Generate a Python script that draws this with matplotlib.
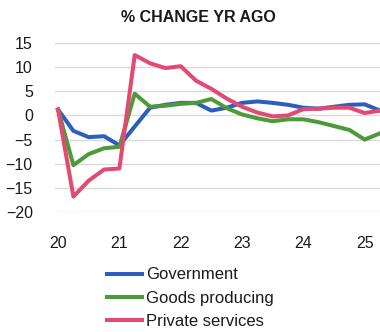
import numpy as np
import matplotlib
matplotlib.use("Agg")
import matplotlib.pyplot as plt

plt.rcParams["font.family"] = ["Liberation Sans", "DejaVu Sans"]

# quarterly, 2020Q1 .. 2025Q2
quarters = 20 + np.arange(22) * 0.25
government = [1.2, -3.2, -4.5, -4.3, -6.2, -2.3, 1.6, 2.2, 2.6, 2.6, 1.0,
              1.6, 2.6, 2.9, 2.6, 2.2, 1.6, 1.4, 1.8, 2.2, 2.3, 1.0]
goods = [1.2, -10.3, -8.0, -6.8, -6.5, 4.5, 1.8, 2.0, 2.4, 2.6, 3.4,
         1.5, 0.2, -0.6, -1.2, -0.8, -0.8, -1.4, -2.2, -3.0, -5.0, -3.7]
services = [1.2, -16.8, -13.5, -11.2, -11.0, 12.5, 10.8, 9.8, 10.2, 7.2, 5.5,
            3.5, 1.8, 0.6, -0.2, 0.0, 1.3, 1.4, 1.6, 1.6, 0.5, 1.0]

yticks = [15, 10, 5, 0, -5, -10, -15, -20]
xticks = [20, 21, 22, 23, 24, 25]
xlabels = ["20", "21", "22", "23", "24", "25"]

COLORS = {"Government": "#2E5EBD", "Goods producing": "#4E9A3A",
          "Private services": "#E34A72"}

fig = plt.figure(figsize=(3.8, 3.32), dpi=100)
ax = fig.add_axes([55 / 380, 1 - 212 / 332, 1 - 55 / 380, (212 - 43) / 332])

ax.plot(quarters, government, color=COLORS["Government"], lw=2.9, label="Government")
ax.plot(quarters, goods, color=COLORS["Goods producing"], lw=2.9, label="Goods producing")
ax.plot(quarters, services, color=COLORS["Private services"], lw=2.9, label="Private services")

ax.set_ylim(-20, 15)
ax.set_xlim(19.95, 25.25)
ax.set_yticks(yticks)
ax.set_xticks(xticks)
ax.set_xticklabels(xlabels)
ax.grid(axis="y", color="#dadada", lw=1)
ax.set_axisbelow(True)
for s in ax.spines.values():
    s.set_visible(False)
ax.tick_params(length=0, labelsize=11.5, colors="#1a1a1a")
ax.tick_params(axis="x", pad=17)
ax.tick_params(axis="y", pad=16)

fig.text(198 / 380, 1 - 17 / 332, "% CHANGE YR AGO", ha="center", va="center",
         fontsize=11.5, fontweight="bold", color="#1a1a1a")

fig.legend(loc="upper left", bbox_to_anchor=(99 / 380, 1 - 259 / 332),
           frameon=False, fontsize=12, handlelength=2.1, handletextpad=0.25,
           labelspacing=0.5, borderpad=0, labelcolor="#1a1a1a")

fig.savefig("out.png", dpi=100)
